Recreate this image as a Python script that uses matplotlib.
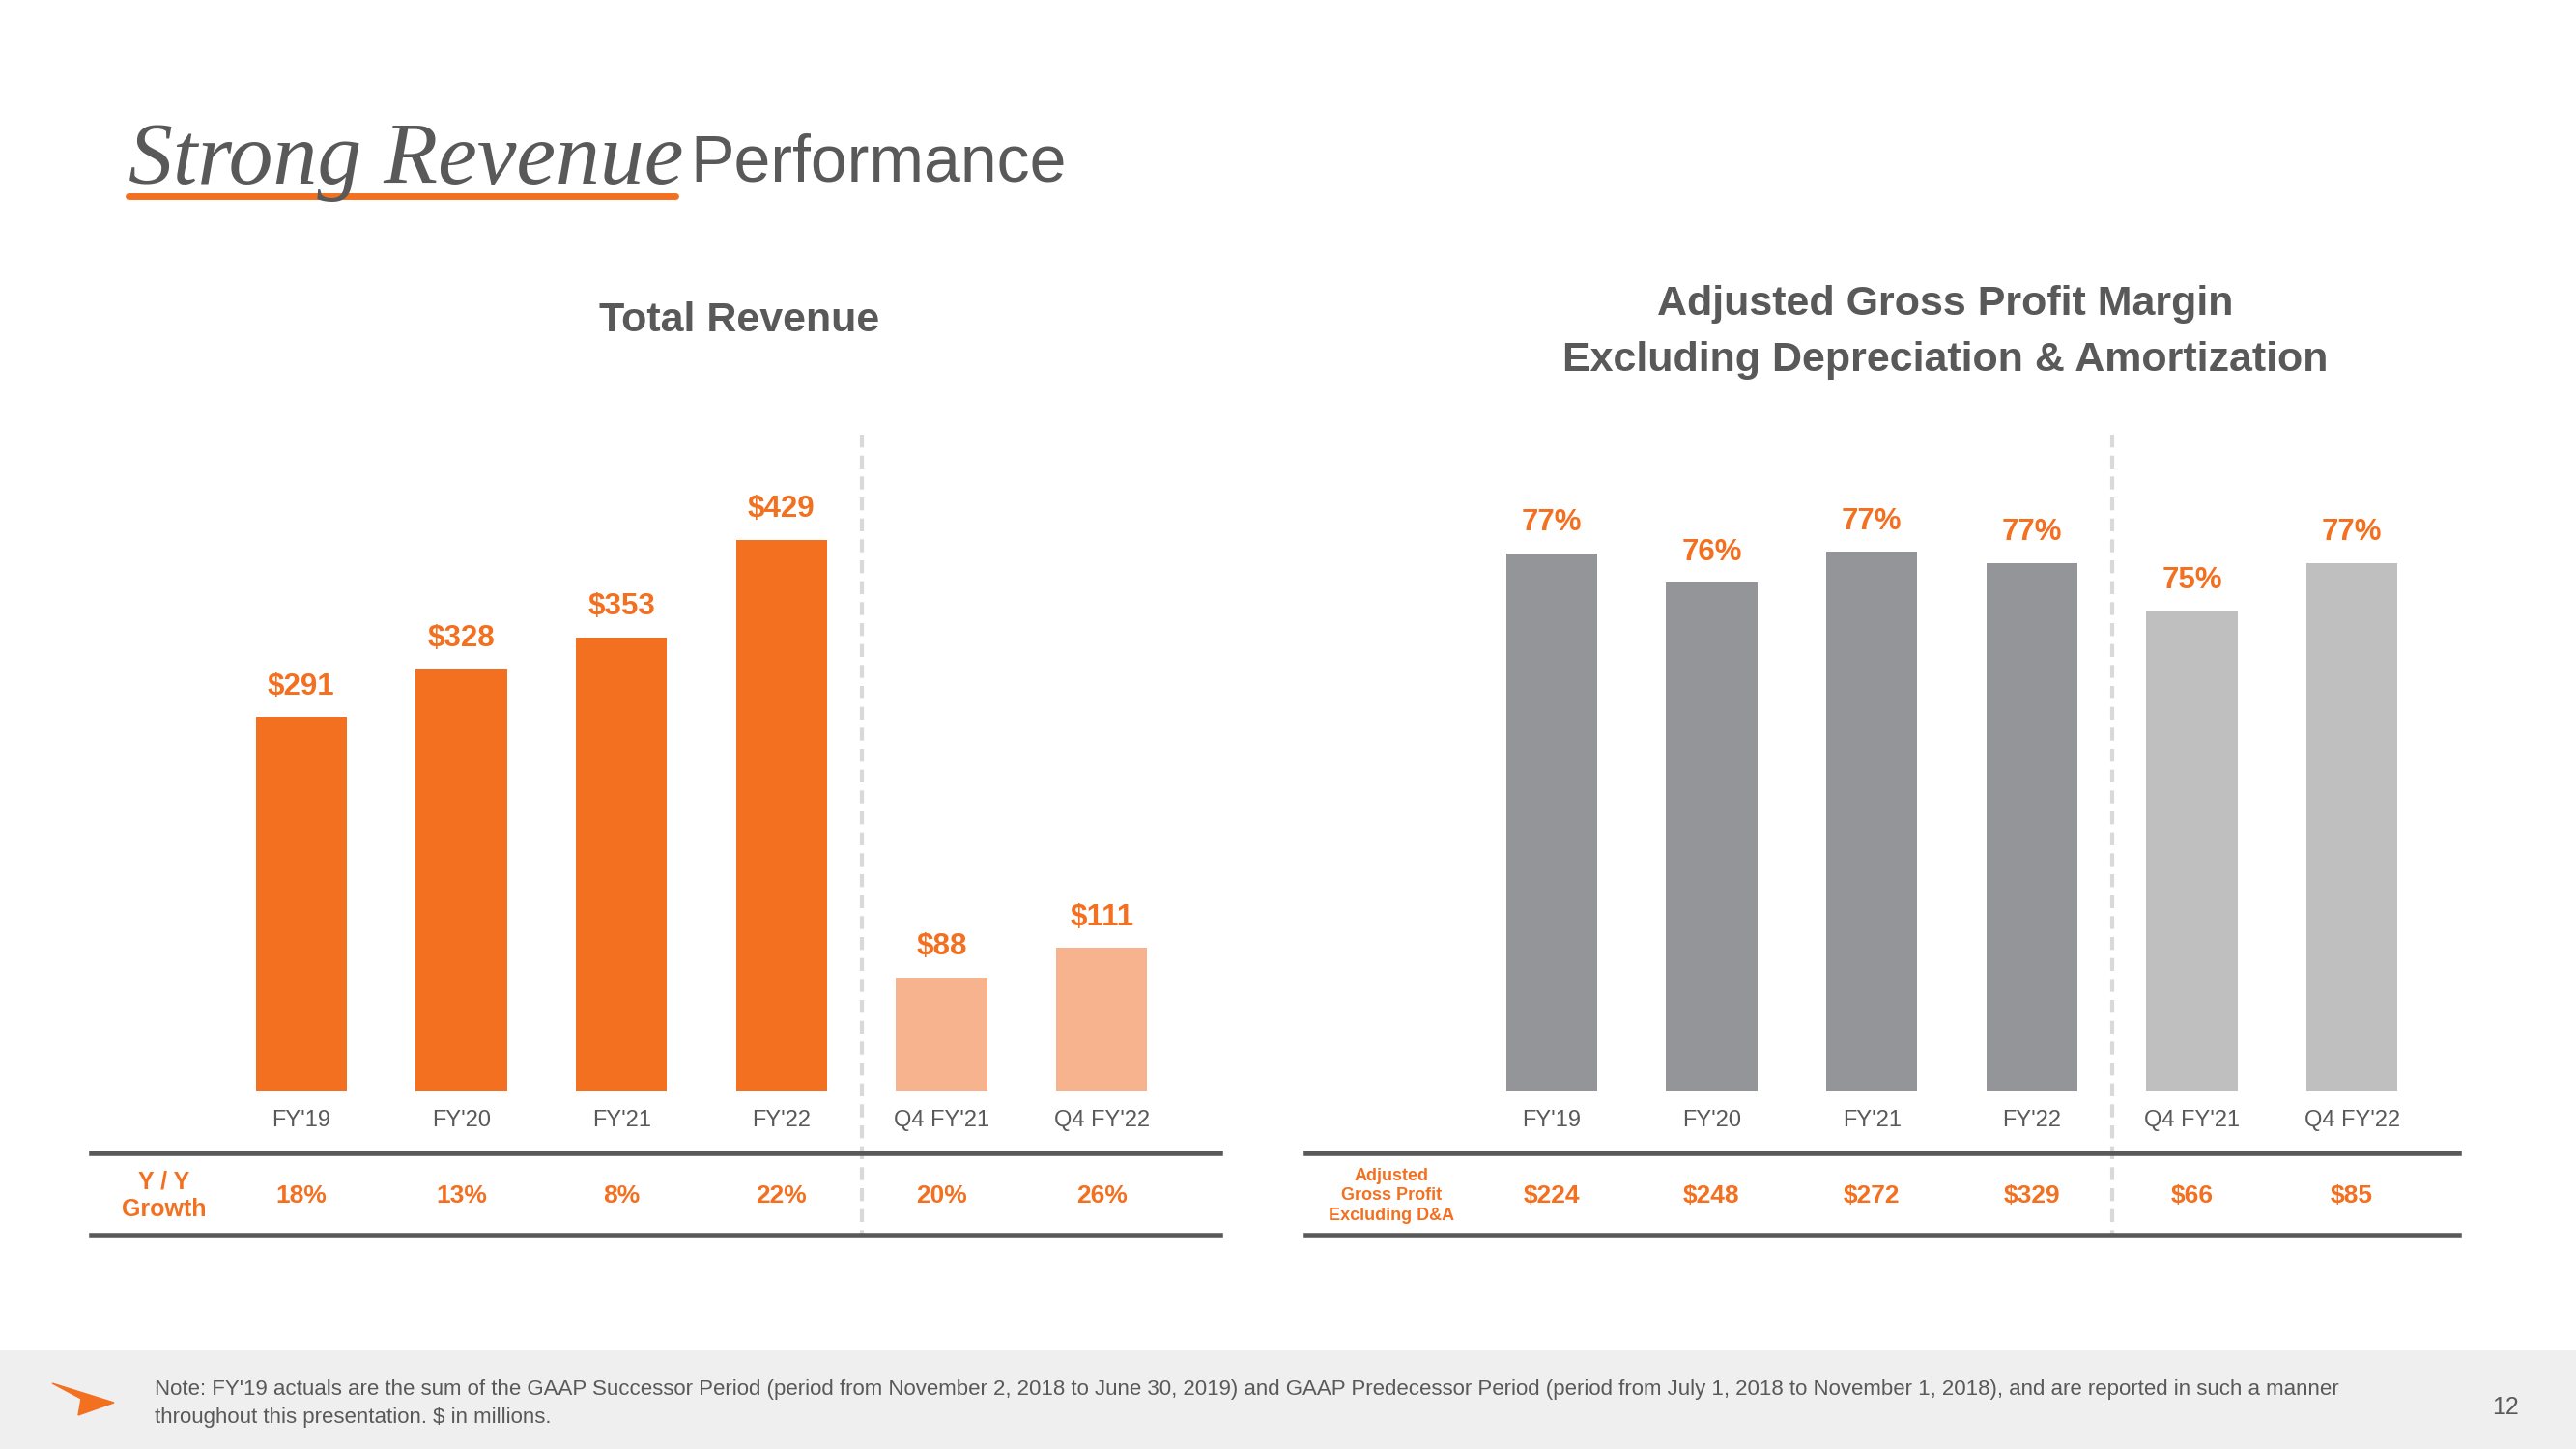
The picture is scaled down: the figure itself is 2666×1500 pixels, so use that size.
import matplotlib
matplotlib.use("Agg")
import matplotlib.pyplot as plt
from matplotlib.lines import Line2D
from matplotlib.patches import Polygon
import matplotlib.transforms as mtransforms

# ---- data ----
categories = ["FY'19", "FY'20", "FY'21", "FY'22", "Q4 FY'21", "Q4 FY'22"]
revenue = [291, 328, 353, 429, 88, 111]
revenue_labels = ["$291", "$328", "$353", "$429", "$88", "$111"]
yoy_growth = ["18%", "13%", "8%", "22%", "20%", "26%"]

margin = [77.3, 76.35, 77.35, 77.0, 75.45, 77.0]
margin_labels = ["77%", "76%", "77%", "77%", "75%", "77%"]
gross_profit = ["$224", "$248", "$272", "$329", "$66", "$85"]

note = ("Note: FY'19 actuals are the sum of the GAAP Successor Period (period from November 2, 2018 to June 30, 2019) "
        "and GAAP Predecessor Period (period from July 1, 2018 to November 1, 2018), and are reported in such a manner\n"
        "throughout this presentation. $ in millions.")

# ---- styles ----
ORANGE = "#F37021"
ORANGE_LIGHT = "#F6B38E"
GRAY_DARK = "#939598"
GRAY_LIGHT = "#BFBFBF"
TEXT = "#595959"
SEP = "#D9D9D9"

W, H = 2666, 1500
plt.rcParams['font.family'] = ['Liberation Sans', 'DejaVu Sans']

fig = plt.figure(figsize=(W / 100, H / 100), dpi=100)
fig.patch.set_facecolor("white")


def fx(px):
    return px / W


def fy(py):
    return 1 - py / H


def fig_line(x0, x1, y0, y1, **kw):
    fig.add_artist(Line2D([fx(x0), fx(x1)], [fy(y0), fy(y1)], transform=fig.transFigure, **kw))


# ---- title ----
fig.text(fx(133), fy(190), "Strong Revenue", family="Liberation Serif", style="italic",
         fontsize=66, color=TEXT, ha="left", va="baseline")
fig.text(fx(714), fy(187), "Performance", fontsize=49, color=TEXT, ha="left", va="baseline")
fig_line(133, 699, 203, 203, color=ORANGE, linewidth=5, solid_capstyle="round")

BAR_BOTTOM = 1129
AX_TOP = 400


def make_axes(x0, x1, ymin, ymax):
    ax = fig.add_axes([fx(x0), fy(BAR_BOTTOM), fx(x1) - fx(x0), (BAR_BOTTOM - AX_TOP) / H])
    ax.set_xlim(-0.5, 5.5)
    ax.set_ylim(ymin, ymax)
    ax.axis("off")
    return ax


# ---- left: total revenue ----
axL = make_axes(229, 1223, 0, 548.5)
colors_l = [ORANGE] * 4 + [ORANGE_LIGHT] * 2
axL.bar(range(len(categories)), revenue, width=0.57, color=colors_l)
for i, (v, lab) in enumerate(zip(revenue, revenue_labels)):
    axL.annotate(lab, (i, v), xytext=(0, 12), textcoords="offset points", ha="center", va="bottom",
                 fontsize=22.5, fontweight="bold", color=ORANGE)

# ---- right: gross profit margin ----
axR = make_axes(1523, 2517, 60, 82.68)
colors_r = [GRAY_DARK] * 4 + [GRAY_LIGHT] * 2
axR.bar(range(len(categories)), margin, width=0.57, color=colors_r)
for i, (v, lab) in enumerate(zip(margin, margin_labels)):
    axR.annotate(lab, (i, v), xytext=(0, 12), textcoords="offset points", ha="center", va="bottom",
                 fontsize=22.5, fontweight="bold", color=ORANGE)

# ---- category labels, table rows, separators ----
for ax, row, xl0, xl1 in [(axL, yoy_growth, 95, 1263), (axR, gross_profit, 1352, 2545)]:
    tr = mtransforms.blended_transform_factory(ax.transData, fig.transFigure)
    for i, (cat, val) in enumerate(zip(categories, row)):
        ax.text(i, fy(1160), cat, transform=tr, ha="center", va="center", fontsize=17, color=TEXT)
        ax.text(i, fy(1238), val, transform=tr, ha="center", va="center", fontsize=19,
                fontweight="bold", color=ORANGE)
    ax.add_line(Line2D([3.5, 3.5], [fy(450), fy(1279)], transform=tr, color=SEP, linewidth=3,
                       dashes=(3.2, 2), clip_on=False))
    fig_line(xl0, xl1, 1194, 1194, color=TEXT, linewidth=4)
    fig_line(xl0, xl1, 1279, 1279, color=TEXT, linewidth=4)

fig.text(fx(170), fy(1238), "Y / Y\nGrowth", ha="center", va="center", fontsize=18,
         fontweight="bold", color=ORANGE, linespacing=1.25)
fig.text(fx(1440), fy(1238), "Adjusted\nGross Profit\nExcluding D&A", ha="center", va="center",
         fontsize=13, fontweight="bold", color=ORANGE, linespacing=1.3)

# ---- chart titles ----
fig.text(fx(765), fy(332), "Total Revenue", ha="center", va="center", fontsize=31,
         fontweight="bold", color=TEXT)
fig.text(fx(2013), fy(344), "Adjusted Gross Profit Margin\nExcluding Depreciation & Amortization",
         ha="center", va="center", fontsize=31, fontweight="bold", color=TEXT, linespacing=1.6)

# ---- footer ----
fig.add_artist(plt.Rectangle((0, 0), 1, fy(1398), transform=fig.transFigure, color="#EFEFEF", zorder=0))
arrow = [(54, 1432), (118, 1452), (81, 1465), (84, 1448)]
fig.add_artist(Polygon([(fx(x), fy(y)) for x, y in arrow], closed=True, transform=fig.transFigure,
                       color=ORANGE, zorder=1))
fig.text(fx(160), fy(1453), note, ha="left", va="center", fontsize=16, color=TEXT, linespacing=1.45)
fig.text(fx(2593), fy(1457), "12", ha="center", va="center", fontsize=18, color=TEXT)

fig.savefig("out.png", dpi=100)
